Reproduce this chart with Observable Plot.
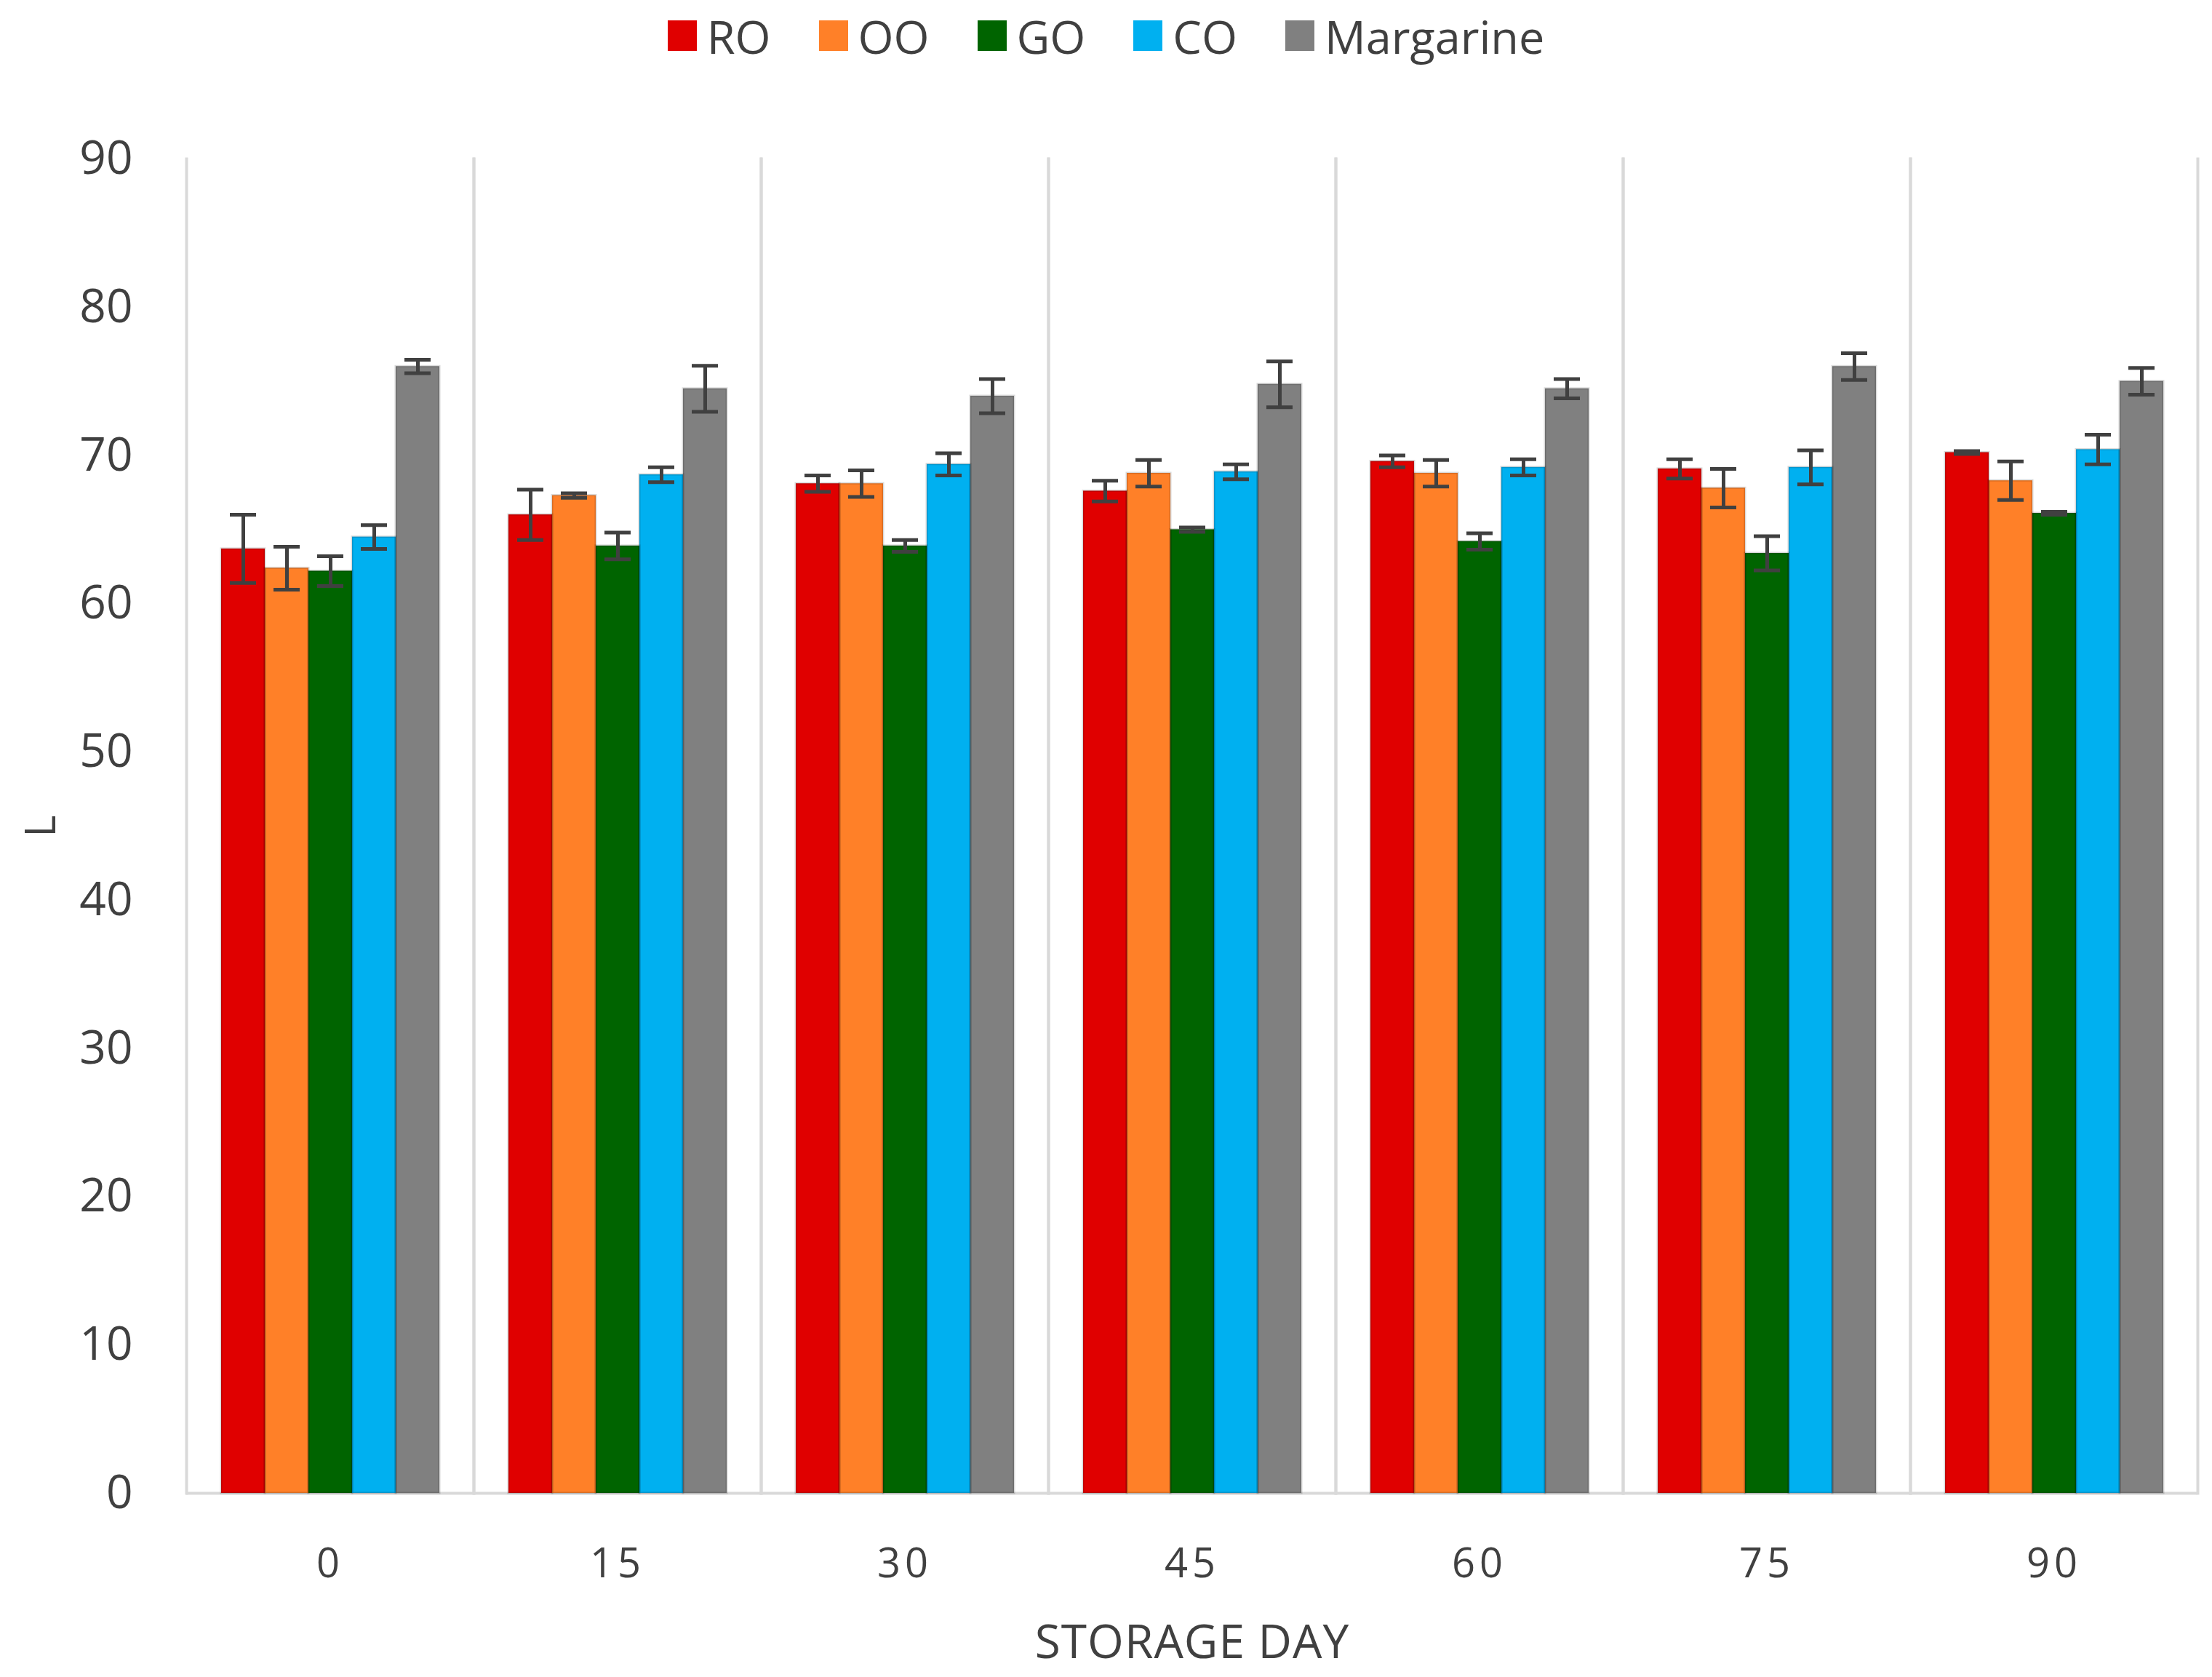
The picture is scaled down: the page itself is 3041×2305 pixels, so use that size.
<!DOCTYPE html>
<html>
<head>
<meta charset="utf-8">
<script src="https://cdn.jsdelivr.net/npm/d3@7"></script>
<script src="https://cdn.jsdelivr.net/npm/@observablehq/plot@0.6"></script>
<style>
  html, body { margin: 0; padding: 0; background: #fff; }
  #legend { height: 110px; box-sizing: border-box; padding-bottom: 12px; width: 3041px; display: flex; align-items: center; justify-content: center; font-family: "Open Sans", sans-serif; font-size: 63px; color: #404040; }
  .item { display: flex; align-items: center; margin: 0 33px; }
  .sw { width: 40px; height: 42px; margin-right: 14px; }
</style>
</head>
<body>
<div id="legend"></div>
<div id="chart"></div>
<script>
const days = ["0", "15", "30", "45", "60", "75", "90"];
const series = ["RO", "OO", "GO", "CO", "Margarine"];
const RO = [63.7, 66.0, 68.1, 67.6, 69.6, 69.1, 70.2];
const RO_err = [2.3, 1.7, 0.55, 0.7, 0.4, 0.65, 0.1];
const OO = [62.4, 67.3, 68.1, 68.8, 68.8, 67.8, 68.3];
const OO_err = [1.45, 0.15, 0.9, 0.9, 0.9, 1.3, 1.3];
const GO = [62.2, 63.9, 63.9, 65.0, 64.2, 63.4, 66.1];
const GO_err = [1.0, 0.9, 0.4, 0.15, 0.55, 1.15, 0.1];
const CO = [64.5, 68.7, 69.4, 68.9, 69.2, 69.2, 70.4];
const CO_err = [0.8, 0.5, 0.75, 0.5, 0.55, 1.15, 1.0];
const Margarine = [76.0, 74.5, 74.0, 74.8, 74.5, 76.0, 75.0];
const Margarine_err = [0.45, 1.55, 1.15, 1.55, 0.65, 0.9, 0.9];
const yTicks = [0, 10, 20, 30, 40, 50, 60, 70, 80, 90];

const colors = ["#E00000", "#FF8028", "#006400", "#00B0F0", "#808080"];

const values = {RO, OO, GO, CO, Margarine};
const errors = {RO: RO_err, OO: OO_err, GO: GO_err, CO: CO_err, Margarine: Margarine_err};
const data = [];
days.forEach((day, i) => {
  series.forEach(s => {
    data.push({day, series: s, value: values[s][i], err: errors[s][i]});
  });
});

// legend
const legend = d3.select("#legend");
series.forEach((s, i) => {
  const it = legend.append("div").attr("class", "item");
  it.append("div").attr("class", "sw").style("background", colors[i]);
  it.append("span").text(s);
});

const errColor = "#404040";
const sepColor = "#d9d9d9";

const chart = Plot.plot({
  width: 3041,
  height: 2195,
  marginLeft: 255,
  marginRight: 19,
  marginTop: 108,
  marginBottom: 253,
  style: {fontFamily: "Open Sans, sans-serif", background: "#fff", color: "#404040"},
  fx: {domain: days, padding: 0},
  x: {domain: series, paddingInner: 0, paddingOuter: 0.78, axis: null},
  y: {domain: [0, 90], axis: null},
  color: {domain: series, range: colors},
  marks: [
    Plot.frame({anchor: "left", stroke: sepColor, strokeWidth: 4}),
    Plot.frame({anchor: "right", stroke: sepColor, strokeWidth: 4}),
    Plot.ruleY([0], {stroke: sepColor, strokeWidth: 4}),
    Plot.barY(data, {fx: "day", x: "series", y: "value", fill: "series"}),
    Plot.barY(data, {fx: "day", x: "series", y: "value", fill: "none", stroke: "#000", strokeOpacity: 0.15, strokeWidth: 3}),
    Plot.ruleX(data, {fx: "day", x: "series", y1: d => d.value - d.err, y2: d => d.value + d.err, stroke: errColor, strokeWidth: 5}),
    Plot.tickY(data, {fx: "day", x: "series", y: d => d.value + d.err, insetLeft: 12, insetRight: 12, stroke: errColor, strokeWidth: 5}),
    Plot.tickY(data, {fx: "day", x: "series", y: d => d.value - d.err, insetLeft: 12, insetRight: 12, stroke: errColor, strokeWidth: 5}),
    Plot.axisY(yTicks, {anchor: "left", tickSize: 0, tickPadding: 74, fontSize: 64, fill: "#404040",
      label: "L", labelArrow: "none", labelAnchor: "center", labelOffset: 222}),
    Plot.axisFx({anchor: "bottom", tickSize: 0, tickPadding: 76, fontSize: 56, fill: "#404040",
      label: "STORAGE DAY", labelArrow: "none", labelAnchor: "center", labelOffset: 226})
  ]
});
document.getElementById("chart").appendChild(chart);

// styling touches
d3.select(chart).selectAll('g[aria-label="fx-axis tick label"] text').style("letter-spacing", "6px");
d3.select(chart).selectAll('g[aria-label="fx-axis label"] text').style("font-size", "64px").style("letter-spacing", "1px");
d3.select(chart).selectAll('g[aria-label="y-axis label"] text').style("font-size", "58px")
  .each(function() { const t = this.textContent.replace(/[\u2190-\u21FF]/g, "").trim(); this.textContent = t; });
</script>
</body>
</html>
